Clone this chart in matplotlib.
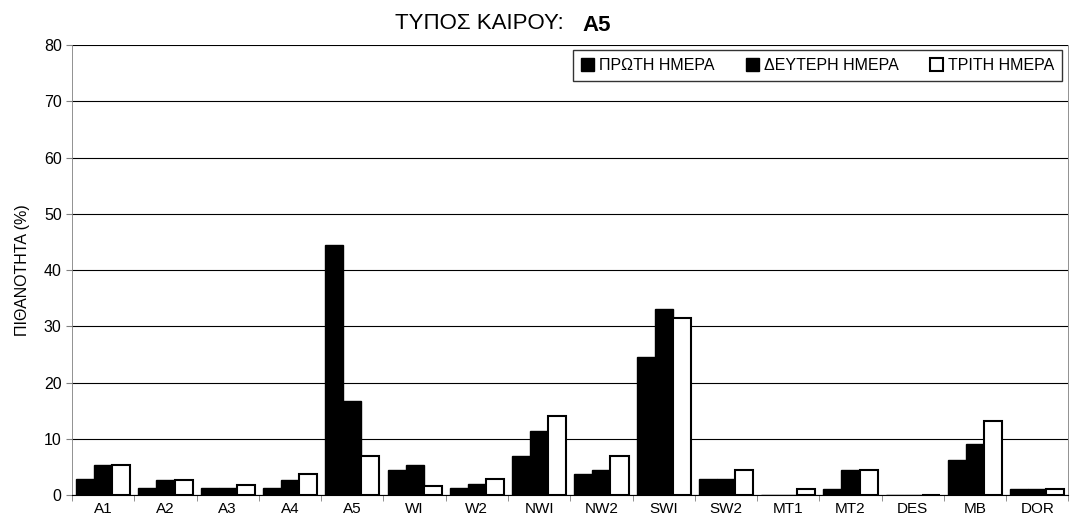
import numpy as np
import matplotlib
matplotlib.use("Agg")
from matplotlib import pyplot as plt

# data
categories = ["A1", "A2", "A3", "A4", "A5", "WI", "W2", "NWI", "NW2", "SWI",
              "SW2", "MT1", "MT2", "DES", "MB", "DOR"]
day1 = [2.8, 1.2, 1.2, 1.2, 44.4, 4.4, 1.2, 7.0, 3.7, 24.6, 2.8, 0.0, 1.1, 0.0, 6.3, 1.1]
day2 = [5.3, 2.7, 1.2, 2.7, 16.7, 5.4, 1.9, 11.4, 4.4, 33.0, 2.8, 0.0, 4.4, 0.0, 9.0, 1.1]
day3 = [5.3, 2.7, 1.8, 3.7, 7.0, 1.6, 2.8, 14.0, 7.0, 31.4, 4.4, 1.1, 4.4, 0.0, 13.1, 1.1]
labels = ["ΠΡΩΤΗ ΗΜΕΡΑ", "ΔΕΥΤΕΡΗ ΗΜΕΡΑ", "ΤΡΙΤΗ ΗΜΕΡΑ"]
yticks = [0, 10, 20, 30, 40, 50, 60, 70, 80]

plt.rcParams['font.family'] = ['Liberation Sans', 'DejaVu Sans']

fig = plt.figure(figsize=(10.76, 5.29), dpi=100)
ax = fig.add_axes([0.067, 0.064, 0.926, 0.851])

x = np.arange(len(categories))
w = 0.29
ax.bar(x - w, day1, w, color='black', edgecolor='black', linewidth=1, label=labels[0], zorder=3)
ax.bar(x, day2, w, color='black', edgecolor='black', linewidth=1, label=labels[1], zorder=3)
ax.bar(x + w, day3, w, color='white', edgecolor='black', linewidth=1.5, label=labels[2], zorder=3)

ax.set_xlim(-0.5, len(categories) - 0.5)
ax.set_ylim(0, 80)
ax.set_yticks(yticks)
ax.yaxis.grid(True, color='black', linewidth=0.8, zorder=0)

# labels centred, small ticks between groups
ax.set_xticks(x)
ax.set_xticklabels(categories, fontsize=11)
ax.tick_params(axis='x', length=0, pad=5)
ax.set_xticks(np.arange(len(categories) + 1) - 0.5, minor=True)
ax.tick_params(axis='x', which='minor', length=4, color='gray')
ax.tick_params(axis='y', labelsize=11.5, length=4, color='gray')

ax.spines['top'].set_visible(False)
ax.spines['left'].set_color('gray')
ax.spines['left'].set_linewidth(0.6)
ax.spines['right'].set_color('gray')
ax.spines['right'].set_linewidth(0.6)
ax.spines['bottom'].set_linewidth(0.8)

ax.set_ylabel("ΠΙΘΑΝΟΤΗΤΑ (%)", fontsize=11.5, labelpad=10)

fig.text(0.524, 0.955, "ΤΥΠΟΣ ΚΑΙΡΟΥ:", fontsize=16, ha='right', va='center')
fig.text(0.541, 0.952, "A5", fontsize=16, fontweight='bold', ha='left', va='center')

leg = ax.legend(loc='upper right', ncol=3, fontsize=11.5, frameon=True, fancybox=False,
                edgecolor='black', handlelength=0.8, handleheight=0.8, handletextpad=0.3,
                columnspacing=2.0, borderpad=0.5, borderaxespad=0.2,
                bbox_to_anchor=(0.997, 0.996))
leg.get_frame().set_linewidth(1)

fig.savefig("out.png", dpi=100)
